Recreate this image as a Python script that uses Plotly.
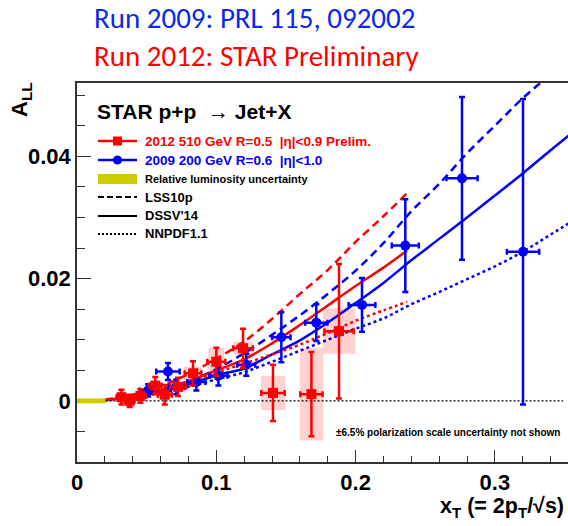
import plotly.graph_objects as go

# ---------------- data ----------------
# 2012, 510 GeV, R=0.5, |eta|<0.9 (preliminary)
red_x = [0.0319, 0.0378, 0.0455, 0.0562, 0.0630, 0.0725, 0.0833, 0.1000, 0.1192, 0.1407, 0.1683, 0.1881]
red_y = [0.0006, 0.0000, 0.0008, 0.0025, 0.0010, 0.0023, 0.0045, 0.0064, 0.0086, 0.0013, 0.0011, 0.0114]
red_ey = [0.0012, 0.0010, 0.0011, 0.0014, 0.0016, 0.0015, 0.0020, 0.0023, 0.0032, 0.0046, 0.0069, 0.0110]
red_ex = [0.0035, 0.0035, 0.0040, 0.0045, 0.0050, 0.0055, 0.0060, 0.0065, 0.0070, 0.0084, 0.0080, 0.0105]
red_sys_y = [0.0004, 0.0004, 0.0005, 0.0006, 0.0006, 0.0008, 0.0011, 0.0023, 0.0011, 0.0028, 0.0076, 0.0037]
red_sys_x = [0.0040, 0.0040, 0.0045, 0.0050, 0.0055, 0.0060, 0.0065, 0.0057, 0.0068, 0.0086, 0.0084, 0.0116]

# 2009, 200 GeV, R=0.6, |eta|<1.0
blue_x = [0.0510, 0.0653, 0.0713, 0.0857, 0.1015, 0.1215, 0.1467, 0.1718, 0.2046, 0.2357, 0.2764, 0.3202]
blue_y = [0.0017, 0.0048, 0.0023, 0.0031, 0.0041, 0.0059, 0.0104, 0.0128, 0.0157, 0.0254, 0.0364, 0.0244]
blue_ey = [0.0010, 0.0014, 0.0012, 0.0014, 0.0016, 0.0018, 0.0041, 0.0030, 0.0044, 0.0076, 0.0133, 0.0250]
blue_ex = [0.0060, 0.0084, 0.0060, 0.0065, 0.0065, 0.0065, 0.0066, 0.0080, 0.0096, 0.0097, 0.0112, 0.0116]

# theory predictions at 510 GeV
th510_x = [0.02, 0.04, 0.06, 0.08, 0.10, 0.12, 0.14, 0.16, 0.18, 0.20, 0.22, 0.237]
th510_lss = [0.0002, 0.0010, 0.0024, 0.0044, 0.0069, 0.0097, 0.0134, 0.0175, 0.0214, 0.0260, 0.0302, 0.0340]
th510_dssv = [0.0001, 0.0008, 0.0018, 0.0032, 0.0050, 0.0068, 0.0094, 0.0124, 0.0156, 0.0188, 0.0218, 0.0246]
th510_nnpdf = [0.0001, 0.0007, 0.0016, 0.0030, 0.0046, 0.0061, 0.0076, 0.0092, 0.0111, 0.0131, 0.0148, 0.0162]

# theory predictions at 200 GeV
th200_x = [0.045, 0.06, 0.08, 0.10, 0.12, 0.14, 0.16, 0.18, 0.20, 0.22, 0.24, 0.26, 0.28, 0.30, 0.32, 0.34, 0.36]
th200_lss = [0.0010, 0.0018, 0.0032, 0.0052, 0.0078, 0.0108, 0.0140, 0.0175, 0.0213, 0.0258, 0.0310, 0.0355, 0.0405, 0.0450, 0.0495, 0.0535, 0.0580]
th200_dssv = [0.0008, 0.0015, 0.0027, 0.0042, 0.0053, 0.0076, 0.0099, 0.0128, 0.0160, 0.0193, 0.0230, 0.0265, 0.0300, 0.0336, 0.0372, 0.0410, 0.0447]
th200_nnpdf = [0.0007, 0.0013, 0.0023, 0.0035, 0.0047, 0.0064, 0.0082, 0.0100, 0.0118, 0.0135, 0.0158, 0.0178, 0.0199, 0.0220, 0.0244, 0.0272, 0.0300]

# relative luminosity band and zero reference
lumi_x = [0.0, 0.0205]
lumi_unc = 0.0004
zero_x = [0.0205, 0.349]

x_range = [0.0, 0.3525]
y_range = [-0.01, 0.052]

RED = "rgb(255,0,0)"
BLUE = "rgb(0,0,255)"
BOLD = "Liberation Sans, Arial, sans-serif"

# plot-area geometry in pixels (used for placing legend/labels)
W, H = 568, 526
ML, MR, MT, MB = 77, 0, 83, 64
PW, PH = W - ML - MR, H - MT - MB


def px(xpix):
    return (xpix - ML) / PW


def py(ypix):
    return (H - MB - ypix) / PH


fig = go.Figure()

# theory curves
dash_style = "8px,5px"
dot_style = "3px,3px"
for xs, ys, col in [(th200_x, th200_lss, BLUE), (th510_x, th510_lss, RED)]:
    fig.add_trace(go.Scatter(x=xs, y=ys, mode="lines", line=dict(color=col, width=2.5, dash=dash_style, shape="spline"), hoverinfo="skip"))
for xs, ys, col in [(th200_x, th200_dssv, BLUE), (th510_x, th510_dssv, RED)]:
    fig.add_trace(go.Scatter(x=xs, y=ys, mode="lines", line=dict(color=col, width=2.5, shape="spline"), hoverinfo="skip"))
for xs, ys, col in [(th200_x, th200_nnpdf, BLUE), (th510_x, th510_nnpdf, RED)]:
    fig.add_trace(go.Scatter(x=xs, y=ys, mode="lines", line=dict(color=col, width=2.5, dash=dot_style, shape="spline"), hoverinfo="skip"))

# zero line
fig.add_trace(go.Scatter(x=zero_x, y=[0, 0], mode="lines", line=dict(color="black", width=1.3, dash="2px,2px"), hoverinfo="skip"))

# 2009 data
fig.add_trace(go.Scatter(
    x=blue_x, y=blue_y, mode="markers",
    marker=dict(symbol="circle", size=10, color=BLUE),
    error_x=dict(type="data", array=blue_ex, color=BLUE, thickness=2.5, width=3),
    error_y=dict(type="data", array=blue_ey, color=BLUE, thickness=2.5, width=3),
))

# 2012 data
fig.add_trace(go.Scatter(
    x=red_x, y=red_y, mode="markers",
    marker=dict(symbol="square", size=10, color=RED),
    error_x=dict(type="data", array=red_ex, color=RED, thickness=2.5, width=3),
    error_y=dict(type="data", array=red_ey, color=RED, thickness=2.5, width=3),
))

shapes = []
# systematic boxes for 2012 data
for x, y, sx, sy in zip(red_x, red_y, red_sys_x, red_sys_y):
    shapes.append(dict(type="rect", xref="x", yref="y", x0=x - sx, x1=x + sx, y0=y - sy, y1=y + sy,
                       fillcolor="rgba(255,0,0,0.18)", line=dict(width=0), layer="below"))
# relative luminosity band
shapes.append(dict(type="rect", xref="x", yref="y", x0=lumi_x[0], x1=lumi_x[1], y0=-lumi_unc, y1=lumi_unc,
                   fillcolor="#cccc00", line=dict(width=0), layer="above"))

# legend samples
lx0, lx1 = px(98), px(137)
shapes += [
    dict(type="line", xref="paper", yref="paper", x0=lx0, x1=lx1, y0=py(141), y1=py(141), line=dict(color=RED, width=2.5)),
    dict(type="rect", xref="paper", yref="paper", x0=px(113), x1=px(122), y0=py(145.5), y1=py(136.5), fillcolor=RED, line=dict(width=0)),
    dict(type="line", xref="paper", yref="paper", x0=lx0, x1=lx1, y0=py(160), y1=py(160), line=dict(color=BLUE, width=2.5)),
    dict(type="circle", xref="paper", yref="paper", x0=px(113), x1=px(122), y0=py(164.5), y1=py(155.5), fillcolor=BLUE, line=dict(width=0)),
    dict(type="rect", xref="paper", yref="paper", x0=lx0, x1=lx1, y0=py(184), y1=py(174), fillcolor="#cccc00", line=dict(width=0)),
    dict(type="line", xref="paper", yref="paper", x0=lx0, x1=lx1, y0=py(197), y1=py(197), line=dict(color="black", width=2, dash="6px,3px")),
    dict(type="line", xref="paper", yref="paper", x0=lx0, x1=lx1, y0=py(216), y1=py(216), line=dict(color="black", width=2)),
    dict(type="line", xref="paper", yref="paper", x0=lx0, x1=lx1, y0=py(234), y1=py(234), line=dict(color="black", width=2, dash="2px,2px")),
]

ann = []


def label(text, xpix, ypix, size, color="black", xanchor="left", family=BOLD, weight="bold", angle=0):
    ann.append(dict(text=text, x=px(xpix), y=py(ypix), xref="paper", yref="paper", showarrow=False,
                    xanchor=xanchor, yanchor="middle", textangle=angle,
                    font=dict(family=family, size=size, color=color, weight=weight)))


TITLE_FONT = "Carlito, Liberation Sans Narrow, Lato, sans-serif"
label("Run 2009: PRL 115, 092002", 92, 18, 29, color="rgb(10,40,240)", family=TITLE_FONT, weight="normal")
label("Run 2012: STAR Preliminary", 92, 56, 29, color=RED, family=TITLE_FONT, weight="normal")

label("STAR p+p  \u2192 Jet+X", 95, 112, 21)
label("2012 510 GeV R=0.5  |\u03b7|<0.9 Prelim.", 143, 141, 13.5, color=RED)
label("2009 200 GeV R=0.6  |\u03b7|<1.0", 143, 160, 13.5, color=BLUE)
label("Relative luminosity uncertainty", 143, 179, 11)
label("LSS10p", 143, 197, 13)
label("DSSV'14", 143, 216, 13)
label("NNPDF1.1", 143, 234, 13)
label("\u00b16.5% polarization scale uncertainty not shown", 334, 432, 10)

label("A<sub>LL</sub>", 21, 100, 22, angle=-90, xanchor="center")
label("x<sub>T</sub> (= 2p<sub>T</sub>/\u221as)", 566, 507, 21.5, xanchor="right")

fig.update_layout(
    width=W, height=H,
    margin=dict(l=ML, r=MR, t=MT, b=MB, pad=0),
    paper_bgcolor="white", plot_bgcolor="white",
    showlegend=False,
    shapes=shapes, annotations=ann,
    xaxis=dict(range=x_range, showgrid=False, zeroline=False,
               showline=True, linecolor="#333333", linewidth=1.5, mirror=True,
               ticks="inside", ticklen=12, tickwidth=1.3, tickcolor="#333333",
               tick0=0, dtick=0.1, tickformat="~g",
               minor=dict(ticks="inside", ticklen=6, dtick=0.02, tickwidth=1.2, tickcolor="#333333", showgrid=False),
               tickfont=dict(family=BOLD, size=22, color="black", weight="bold")),
    yaxis=dict(range=y_range, showgrid=False, zeroline=False,
               showline=True, linecolor="#333333", linewidth=1.5, mirror=False,
               ticks="inside", ticklen=14, tickwidth=1.3, tickcolor="#333333",
               tick0=0, dtick=0.02, tickformat="~g",
               minor=dict(ticks="inside", ticklen=8, dtick=0.005, tickwidth=1.2, tickcolor="#333333", showgrid=False),
               tickfont=dict(family=BOLD, size=22, color="black", weight="bold")),
)

fig.write_html("out.html")
